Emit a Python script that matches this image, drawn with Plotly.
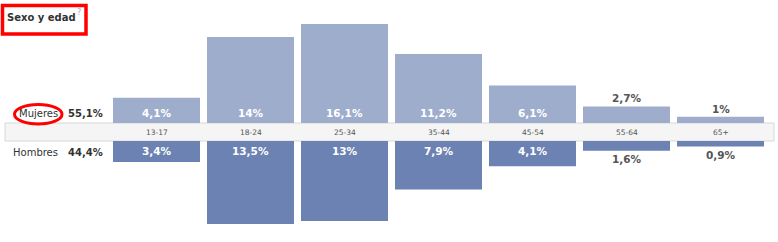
import plotly.graph_objects as go

# ---- data ----
categories = ["13-17", "18-24", "25-34", "35-44", "45-54", "55-64", "65+"]
mujeres = [4.1, 14.0, 16.1, 11.2, 6.1, 2.7, 1.0]
hombres = [3.4, 13.5, 13.0, 7.9, 4.1, 1.6, 0.9]
total_mujeres = "55,1%"
total_hombres = "44,4%"
title_text = "Sexo y edad"

W, H = 778, 242
SCALE = 6.15            # pixels per percentage point
BAND_TOP, BAND_BOT = 123, 141
INSIDE_MIN = 3.0

FEM_COLOR = "#9eadcc"
MAL_COLOR = "#6c82b2"
FONT = "DejaVu Sans"


def px(x):
    return x / W


def py(y):
    return 1 - y / H


def fmt(v):
    s = ("%.1f" % v).rstrip("0").rstrip(".")
    return s.replace(".", ",") + "%"


fig = go.Figure()
fig.add_trace(go.Bar(x=categories, y=mujeres, marker=dict(color=FEM_COLOR, line=dict(width=0)),
                     xaxis="x", yaxis="y", hoverinfo="skip", showlegend=False))
fig.add_trace(go.Bar(x=categories, y=hombres, marker=dict(color=MAL_COLOR, line=dict(width=0)),
                     xaxis="x2", yaxis="y2", hoverinfo="skip", showlegend=False))

x_range = [-156.5 / 94, (W - 156.5) / 94]
top_dom = [py(BAND_TOP), 1]
bot_dom = [0, py(BAND_BOT)]
top_range = [0, BAND_TOP / SCALE]
bot_range = [(H - BAND_BOT) / SCALE, 0]

ann = []
for c, v in zip(categories, mujeres):
    if v >= INSIDE_MIN:
        ann.append(dict(x=c, y=10 / SCALE, xref="x", yref="y", text="<b>%s</b>" % fmt(v),
                        showarrow=False, yanchor="middle",
                        font=dict(family=FONT, size=10.5, color="white")))
    else:
        ann.append(dict(x=c, y=v, xref="x", yref="y", text="<b>%s</b>" % fmt(v),
                        showarrow=False, yanchor="bottom",
                        font=dict(family=FONT, size=10.5, color="#555555")))
for c, v in zip(categories, hombres):
    if v >= INSIDE_MIN:
        ann.append(dict(x=c, y=10 / SCALE, xref="x2", yref="y2", text="<b>%s</b>" % fmt(v),
                        showarrow=False, yanchor="middle",
                        font=dict(family=FONT, size=10.5, color="white")))
    else:
        ann.append(dict(x=c, y=v, xref="x2", yref="y2", text="<b>%s</b>" % fmt(v),
                        showarrow=False, yanchor="top",
                        font=dict(family=FONT, size=10.5, color="#555555")))
for c in categories:
    ann.append(dict(x=c, y=py((BAND_TOP + BAND_BOT) / 2), xref="x", yref="paper", text=c,
                    showarrow=False, yanchor="middle",
                    font=dict(family=FONT, size=7.5, color="#555555")))

# left labels
ann += [
    dict(x=px(60), y=py(113), xref="paper", yref="paper", text="Mujeres", showarrow=False,
         xanchor="right", yanchor="middle", font=dict(family=FONT, size=10, color="#333333")),
    dict(x=px(105), y=py(113), xref="paper", yref="paper", text="<b>%s</b>" % total_mujeres,
         showarrow=False, xanchor="right", yanchor="middle",
         font=dict(family=FONT, size=10, color="#333333")),
    dict(x=px(60), y=py(152), xref="paper", yref="paper", text="Hombres", showarrow=False,
         xanchor="right", yanchor="middle", font=dict(family=FONT, size=10, color="#333333")),
    dict(x=px(105), y=py(152), xref="paper", yref="paper", text="<b>%s</b>" % total_hombres,
         showarrow=False, xanchor="right", yanchor="middle",
         font=dict(family=FONT, size=10, color="#333333")),
    dict(x=px(5), y=py(17.5), xref="paper", yref="paper", text="<b>%s</b>" % title_text,
         showarrow=False, xanchor="left", yanchor="middle",
         font=dict(family=FONT, size=10, color="#333333")),
    dict(x=px(74.5), y=py(12.5), xref="paper", yref="paper", text="?", showarrow=False,
         xanchor="left", yanchor="middle", font=dict(family=FONT, size=8, color="#a3acc6")),
]

shapes = [
    dict(type="rect", xref="paper", yref="paper", x0=px(5), x1=px(774),
         y0=py(BAND_BOT), y1=py(BAND_TOP), fillcolor="#f5f5f5",
         line=dict(color="#d8d8d8", width=1), layer="below"),
    dict(type="rect", xref="paper", yref="paper", x0=px(2.5), x1=px(86),
         y0=py(34), y1=py(5.5), line=dict(color="#ff0000", width=3.5)),
    dict(type="circle", xref="paper", yref="paper", x0=px(14.5), x1=px(62),
         y0=py(124), y1=py(104.5), line=dict(color="#ff0000", width=3)),
]

axis_off = dict(visible=False, fixedrange=True)
fig.update_layout(
    width=W, height=H, autosize=False,
    margin=dict(l=0, r=0, t=0, b=0),
    paper_bgcolor="white", plot_bgcolor="rgba(0,0,0,0)",
    bargap=1 - 87 / 94,
    xaxis=dict(domain=[0, 1], range=x_range, type="category", anchor="y", **axis_off),
    xaxis2=dict(domain=[0, 1], range=x_range, type="category", anchor="y2", **axis_off),
    yaxis=dict(domain=top_dom, range=top_range, anchor="x", **axis_off),
    yaxis2=dict(domain=bot_dom, range=bot_range, anchor="x2", **axis_off),
    annotations=ann, shapes=shapes, showlegend=False,
)

fig.write_html("out.html", config={"displayModeBar": False})
